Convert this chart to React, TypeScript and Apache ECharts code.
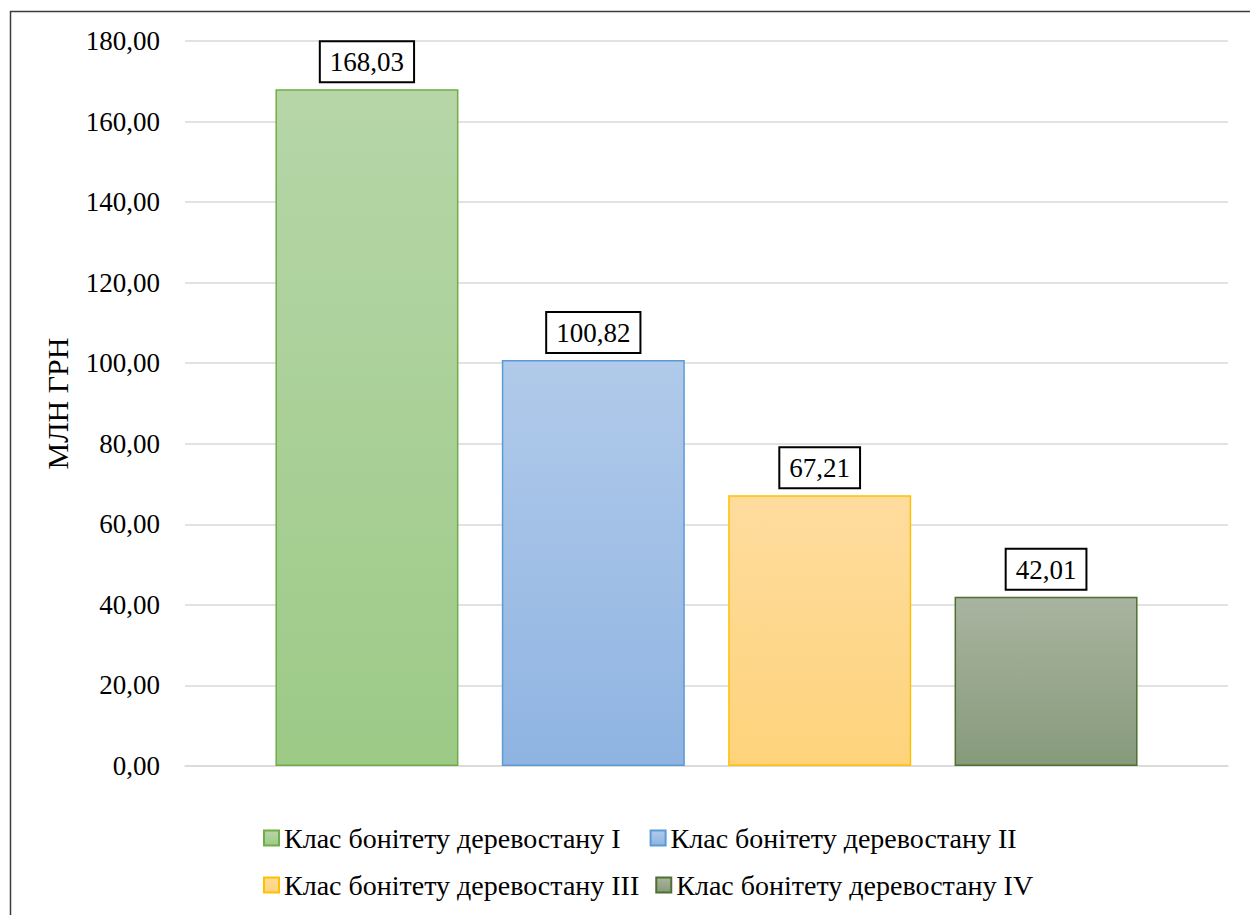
import React, { useEffect, useRef } from "react";
import * as echarts from "echarts";

const seriesNames = [
  "Клас бонітету деревостану I",
  "Клас бонітету деревостану II",
  "Клас бонітету деревостану III",
  "Клас бонітету деревостану IV",
];
const values = [168.03, 100.82, 67.21, 42.01];
const topColors = ["#B6D6A8", "#B1CAEA", "#FEDC9E", "#A9B4A0"];
const bottomColors = ["#9DCA87", "#8FB4E2", "#FED37B", "#879A7B"];
const borderColors = ["#70AD47", "#5B9BD5", "#FFC000", "#4E7030"];
const yTicks = { min: 0, max: 180, interval: 20 };
const yName = "МЛН ГРН";

const FONT = "Liberation Serif, Tinos, Times New Roman, Times, serif";
const fmt = (v: number) => v.toFixed(2).replace(".", ",");

export default function App() {
  const ref = useRef<HTMLDivElement>(null);
  useEffect(() => {
    if (!ref.current) return;
    const chart = echarts.init(ref.current, undefined, { renderer: "svg" });
    const series = seriesNames.map((name, i) => ({
      name,
      type: "bar" as const,
      data: [values[i]],
      barWidth: 183,
      barGap: "23.7%",
      itemStyle: {
        color: new echarts.graphic.LinearGradient(0, 0, 0, 1, [
          { offset: 0, color: topColors[i] },
          { offset: 1, color: bottomColors[i] },
        ]),
        borderColor: borderColors[i],
        borderWidth: 1.5,
      },
      label: {
        show: true,
        position: "top" as const,
        distance: 8,
        formatter: (p: any) => fmt(p.value),
        fontFamily: FONT,
        fontSize: 27,
        lineHeight: 28,
        color: "#000",
        backgroundColor: "#fff",
        borderColor: "#000",
        borderWidth: 2,
        padding: [6, 9, 5, 9],
      },
    }));
    chart.setOption({
      animation: false,
      backgroundColor: "#fff",
      textStyle: { fontFamily: FONT },
      graphic: [
        {
          type: "rect",
          shape: { x: 10.5, y: 11.5, width: 1260, height: 920 },
          style: { fill: "none", stroke: "#3c3c3c", lineWidth: 1.5 },
          silent: true,
        },
      ],
      grid: { left: 185, right: 22, top: 41, bottom: 149, containLabel: false },
      legend: [
        {
          data: [seriesNames[0], seriesNames[1]],
          left: 258,
          top: 819,
          icon: "rect",
          itemWidth: 15,
          itemHeight: 15,
          itemGap: 29,
          textStyle: { fontFamily: FONT, fontSize: 28, color: "#000" },
        },
        {
          data: [seriesNames[2], seriesNames[3]],
          left: 258,
          top: 866,
          icon: "rect",
          itemWidth: 15,
          itemHeight: 15,
          itemGap: 16,
          textStyle: { fontFamily: FONT, fontSize: 28, color: "#000" },
        },
      ],
      xAxis: {
        type: "category",
        data: [""],
        axisLabel: { show: false },
        axisTick: { show: false },
        axisLine: { lineStyle: { color: "#D9D9D9", width: 1.5 } },
      },
      yAxis: {
        type: "value",
        min: yTicks.min,
        max: yTicks.max,
        interval: yTicks.interval,
        name: yName,
        nameLocation: "middle",
        nameRotate: 90,
        nameGap: 113,
        nameTextStyle: { fontFamily: FONT, fontSize: 30, color: "#000" },
        axisLabel: {
          formatter: (v: number) => fmt(v),
          fontFamily: FONT,
          fontSize: 27,
          color: "#000",
          margin: 25,
        },
        axisLine: { show: false },
        axisTick: { show: false },
        splitLine: { lineStyle: { color: "#D9D9D9", width: 1.5 } },
      },
      series,
    });
    return () => chart.dispose();
  }, []);
  return (
    <div
      ref={ref}
      style={{ position: "absolute", left: 0, top: 0, width: 1250, height: 915 }}
    />
  );
}
